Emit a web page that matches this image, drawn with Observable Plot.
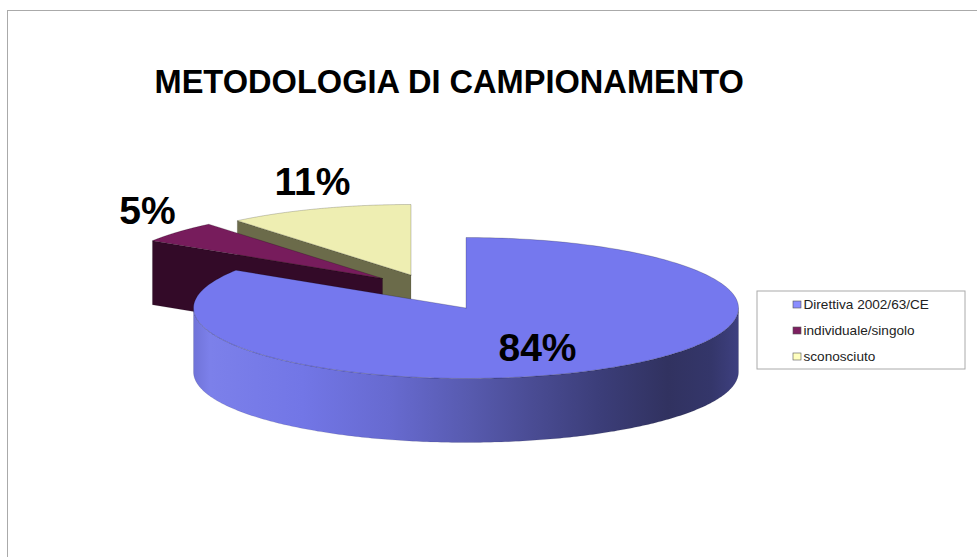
<!DOCTYPE html>
<html>
<head>
<meta charset="utf-8">
<script src="https://cdn.jsdelivr.net/npm/d3@7"></script>
<script src="https://cdn.jsdelivr.net/npm/@observablehq/plot@0.6"></script>
<style>html,body{margin:0;padding:0;background:#fff}svg{display:block}</style>
</head>
<body>
<div id="chart"></div>
<script>
const title = "METODOLOGIA DI CAMPIONAMENTO";
const categories = ["Direttiva 2002/63/CE", "individuale/singolo", "sconosciuto"];
const percents = [84, 5, 11];
const topColors = ["#7578ee", "#771c5c", "#eeeeb2"];
const wallColors = ["#7578ee", "#330a28", "#6b6b4a"];
const swatchColors = ["#8a8dff", "#7d1f60", "#ffffbf"];

// Layout of the tilted pie, in screen units
const W = 977, H = 557;
const rx = 272.5, ry = 70.5, depth = 64;
const centers = [[465.5, 307.5], [382, 278], [410.5, 274.5]];
const labelAt = [[537, 360], [147, 223], [312, 194]];
const legendBox = {x1: 757, x2: 965, y1: 291, y2: 369};
const legendRows = [304.5, 330.5, 356.5];

// Slice angles come from the values (clockwise from 12 o'clock)
const total = d3.sum(percents);
let acc = 0;
const slices = percents.map((v, i) => {
  const a0 = acc / total * 2 * Math.PI;
  acc += v;
  return {i, a0, a1: acc / total * 2 * Math.PI, cx: centers[i][0], cy: centers[i][1]};
});
const rim = (s, a, d = 0) => ({x: s.cx + rx * Math.sin(a), y: s.cy - ry * Math.cos(a) + d});
const apex = (s, d = 0) => ({x: s.cx, y: s.cy + d});
const arc = (s, a0, a1, d = 0) => d3.range(0, 241).map(k => rim(s, a0 + (a1 - a0) * k / 240, d));
const close = pts => [...pts, pts[0]];

const xy = {x: "x", y: "y"};
const topFace = (s, stroke = "#00000055") => Plot.line(close([apex(s), ...arc(s, s.a0, s.a1)]),
  {...xy, fill: topColors[s.i], stroke, strokeWidth: 0.6});
const cutFace = (s, a) => Plot.line(close([apex(s), rim(s, a), rim(s, a, depth), apex(s, depth)]),
  {...xy, fill: wallColors[s.i], stroke: "#00000040", strokeWidth: 0.5});

const [blue, plum, cream] = slices;
const blueWall = close([...arc(blue, Math.PI / 2, 3 * Math.PI / 2), ...arc(blue, 3 * Math.PI / 2, Math.PI / 2, depth)]);

const defs = () => {
  const ns = "http://www.w3.org/2000/svg";
  const d = document.createElementNS(ns, "defs");
  const g = document.createElementNS(ns, "linearGradient");
  g.setAttribute("id", "blueWall");
  [[0, "#7073d8"], [0.03, "#7c80ea"], [0.2, "#7276e6"], [0.36, "#676ad0"], [0.5, "#585bb0"],
   [0.62, "#4a4c94"], [0.75, "#3b3d78"], [0.87, "#313260"], [0.95, "#34366a"], [1, "#3e4080"]].forEach(([o, c]) => {
    const st = document.createElementNS(ns, "stop");
    st.setAttribute("offset", o);
    st.setAttribute("stop-color", c);
    g.appendChild(st);
  });
  d.appendChild(g);
  return d;
};

const font = "Liberation Sans, Arial, sans-serif";

const chart = Plot.plot({
  width: W, height: H, margin: 0,
  style: {background: "#fff", fontFamily: font},
  x: {domain: [0, W], range: [0, W], axis: null},
  y: {domain: [0, H], range: [0, H], axis: null},
  marks: [
    defs,
    Plot.ruleX([7], {y1: 10, y2: H, stroke: "#aaa", strokeWidth: 1}),
    Plot.ruleY([10], {x1: 7, x2: W, stroke: "#aaa", strokeWidth: 1}),
    Plot.text([title], {x: 154, y: 92.5, text: d => d, textAnchor: "start", lineAnchor: "bottom",
      fontSize: 32.6, fontWeight: "bold", fill: "#000", fontFamily: font}),
    cutFace(cream, cream.a0),
    topFace(cream),
    cutFace(plum, plum.a0),
    topFace(plum),
    Plot.line(blueWall, {...xy, fill: "url(#blueWall)", stroke: "#00000030", strokeWidth: 0.5}),
    topFace(blue),
    Plot.text(percents, {x: (d, i) => labelAt[i][0], y: (d, i) => labelAt[i][1], text: d => d + "%",
      textAnchor: "middle", lineAnchor: "bottom", fontSize: 39, fontWeight: "bold", fill: "#000", fontFamily: font}),
    Plot.rect([legendBox], {x1: "x1", x2: "x2", y1: "y1", y2: "y2", fill: "#fff", stroke: "#aaa", strokeWidth: 1}),
    Plot.rect(categories, {x1: 793, x2: 801, y1: (d, i) => legendRows[i] - 3.5, y2: (d, i) => legendRows[i] + 3.5,
      fill: (d, i) => swatchColors[i], stroke: "#555", strokeWidth: 0.6}),
    Plot.text(categories, {x: 803, y: (d, i) => legendRows[i], text: d => d, textAnchor: "start",
      fontSize: 13.6, fill: "#222", fontFamily: font})
  ]
});
document.getElementById("chart").appendChild(chart);
</script>
</body>
</html>
